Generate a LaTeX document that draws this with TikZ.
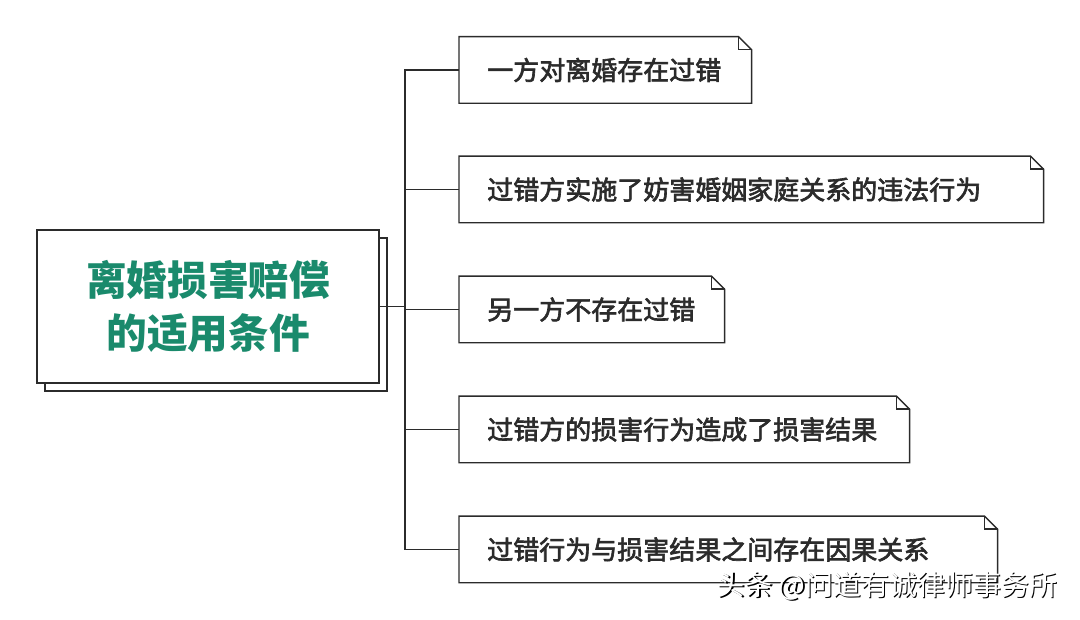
\documentclass[tikz,border=0pt]{standalone}
\usepackage{fontspec}
\usepackage{tikz}
\usetikzlibrary{calc,shadows}
\usepackage{xcolor}
\newfontfamily\cjk{Noto Sans CJK SC}
\newfontfamily\cjkmid{Noto Sans CJK SC}[FakeBold=2.5]
\definecolor{titlegreen}{HTML}{1A8A6C}
\definecolor{inkgray}{HTML}{2B2B2B}

\begin{document}
\begin{tikzpicture}[
  x=0.75pt, y=0.75pt,
  mainbox/.style = {
    rectangle, draw=inkgray, fill=white, line width=1.1pt,
    minimum width=342*0.75pt, minimum height=153*0.75pt,
    align=center, font=\cjk\bfseries\fontsize{30.5}{40}\selectfont,
    text=titlegreen, inner sep=0pt,
    copy shadow={shadow xshift=6pt, shadow yshift=-6pt, draw=inkgray, fill=white, line width=1.1pt}
  },
  condbox/.style = {
    rectangle, draw=none, anchor=west,
    minimum height=66*0.75pt, inner xsep=21pt, inner ysep=0pt,
    text width=#1*0.75pt-42pt, align=left,
    font=\cjkmid\fontsize{19.5}{22}\selectfont, text=inkgray
  },
  outline/.style = {line width=1.1pt, draw=inkgray, line join=miter},
  link/.style    = {line width=0.9pt, draw=inkgray},
]
\useasboundingbox (0,0) rectangle (1080,620);

%% ---- Main box ----
\node[mainbox] (main) at (208,313.5) {离婚损害赔偿\\的适用条件};

%% ---- Conditions ----
\node[condbox=292] (c1) at (459,550) {一方对离婚存在过错};
\node[condbox=584] (c2) at (459,430.5) {过错方实施了妨害婚姻家庭关系的违法行为};
\node[condbox=265] (c3) at (459,310.5) {另一方不存在过错};
\node[condbox=450] (c4) at (459,190.5) {过错方的损害行为造成了损害结果};
\node[condbox=538] (c5) at (459,70.5) {过错行为与损害结果之间存在因果关系};

%% ---- Folded-corner outlines ----
\foreach \n in {c1,c2,c3,c4,c5} {
  \draw[outline] (\n.south west) -- (\n.north west)
    -- ($(\n.north east)+(-13,0)$) -- ($(\n.north east)+(0,-13)$)
    -- (\n.south east) -- cycle;
  \draw[outline] ($(\n.north east)+(-13,0)$) |- ($(\n.north east)+(0,-13)$);
}

%% ---- Connectors ----
\coordinate (trunk) at (405,0);
\draw[link] (main.east) -- (main.east -| trunk);
\draw[link] (c1.west) -- (c1.west -| trunk) -- (c5.west -| trunk) -- (c5.west);
\foreach \n in {c2,c3,c4}
  \draw[link] (\n.west) -- (\n.west -| trunk);

%% ---- Watermark ----
\node[anchor=east, font=\cjk\fontsize{21}{24}\selectfont, text=black] (markshadow)
  at (1063.5,32.5) {头条 @问道有诚律师事务所};
\node[anchor=east, font=\cjk\fontsize{21}{24}\selectfont, text=white] (mark)
  at (1062,33.5) {头条 @问道有诚律师事务所};

\end{tikzpicture}
\end{document}
